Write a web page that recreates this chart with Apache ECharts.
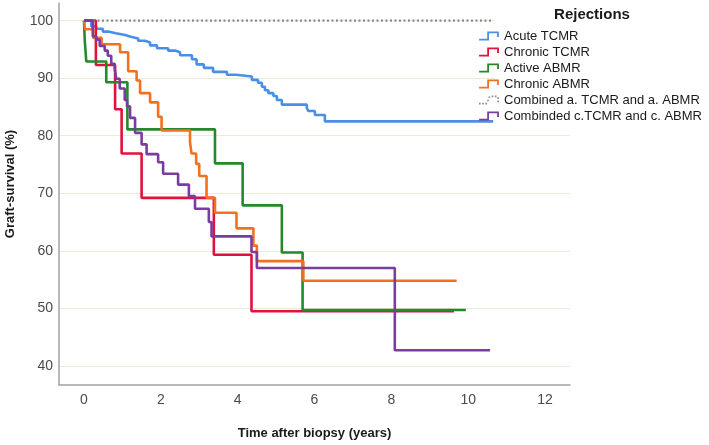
<!DOCTYPE html>
<html>
<head>
<meta charset="utf-8">
<script src="https://cdn.jsdelivr.net/npm/echarts@6/dist/echarts.min.js"></script>
<style>
html,body{margin:0;padding:0;background:#fff;}
#chart{width:709px;height:445px;}
</style>
</head>
<body>
<div id="chart"></div>
<script>
// ---- data ----
const seriesNames = ['Acute TCMR','Chronic TCMR','Active ABMR','Chronic ABMR','Combined a. TCMR and a. ABMR','Combinded c.TCMR and c. ABMR'];
const xTickValues = [0,2,4,6,8,10,12];
const yTickValues = [40,50,60,70,80,90,100];

const acuteTcmrTime = [0,0.19,0.32,0.49,0.63,0.83,1.07,1.22,1.41,1.59,1.72,1.90,2.19,2.37,2.50,2.81,2.93,3.12,3.36,3.72,3.96,4.37,4.53,4.63,4.71,4.80,4.93,5.02,5.15,5.80,5.84,6.01,6.27,10.65];
const acuteTcmrSurv = [100,99.0,98.6,98.1,97.8,97.5,97.2,96.9,96.5,96.2,95.7,95.2,94.8,94.5,94.0,93.3,92.4,91.8,91.1,90.6,90.3,89.7,89.2,88.5,87.9,87.4,86.9,86.2,85.4,84.8,84.3,83.6,82.5,82.5];

const chronicTcmrTime = [0,0.31,0.81,0.98,1.50,3.38,4.36,9.63];
const chronicTcmrSurv = [100,92.3,84.6,76.9,69.2,59.3,49.5,49.5];

const activeAbmrTime = [0,0.02,0.06,0.58,1.13,3.41,4.13,5.15,5.69,9.94];
const activeAbmrSurv = [100,96.6,92.9,89.3,81.1,75.2,67.9,59.7,49.7,49.7];

const chronicAbmrTime = [0,0.03,0.24,0.46,0.94,1.15,1.37,1.46,1.72,1.93,2.02,2.76,2.80,2.92,3.00,3.19,3.41,3.97,4.41,4.50,5.71,9.70];
const chronicAbmrSurv = [100,98.5,97.0,95.9,94.5,91.2,89.6,87.4,85.8,83.3,80.9,78.9,76.9,75.1,73.0,69.2,66.6,63.9,60.9,58.2,54.8,54.8];

const combinedATime = [0,10.6];
const combinedASurv = [100,100];

const combinedCTime = [0,0.23,0.32,0.41,0.54,0.62,0.71,0.80,0.84,0.93,1.06,1.12,1.20,1.33,1.50,1.63,1.93,2.06,2.45,2.73,2.89,3.25,3.32,4.36,4.50,8.09,10.57];
const combinedCSurv = [100,97.3,96.7,95.6,94.8,93.9,92.5,91.6,89.9,88.2,86.2,85.1,83.1,80.5,78.5,76.8,75.4,73.4,71.5,69.5,67.3,65.0,62.5,59.8,57.0,42.7,42.7];

// ---- styling ----
const colors = ['#4a8fe7','#e0123d','#24892a','#f3701f','#8a8a8a','#7a3c9f'];
const FONT = '"Liberation Sans", Arial, sans-serif';
const stepIcon = 'path://M0,8 L9,8 L9,0 L22,0 L22,6 L20,6 L20,2 L11,2 L11,10 L0,10 Z';
const dotIcon = 'path://M0,8h1.8v1.8h-1.8Z M3.5,8h1.8v1.8h-1.8Z M7,8h1.8v1.8h-1.8Z M9,4.5h1.8v1.8h-1.8Z M10.5,1h1.8v1.8h-1.8Z M14,0h1.8v1.8h-1.8Z M17.5,0h1.8v1.8h-1.8Z M20.2,2h1.8v1.8h-1.8Z M20.2,5.5h1.8v1.8h-1.8Z';

function zip(t, s){ return t.map((v,i)=>[v, s[i]]); }
const allData = [
  zip(acuteTcmrTime, acuteTcmrSurv),
  zip(chronicTcmrTime, chronicTcmrSurv),
  zip(activeAbmrTime, activeAbmrSurv),
  zip(chronicAbmrTime, chronicAbmrSurv),
  zip(combinedATime, combinedASurv),
  zip(combinedCTime, combinedCSurv)
];

const series = seriesNames.map((name,i)=>({
  name: name,
  type: 'line',
  step: 'end',
  data: allData[i],
  showSymbol: false,
  symbol: 'none',
  silent: true,
  animation: false,
  color: colors[i],
  lineStyle: i===4 ? {color: colors[i], width: 2.2, type: [2,2.5]} : {color: colors[i], width: 2.6},
  z: 3
}));

const chart = echarts.init(document.getElementById('chart'), null, {renderer:'canvas'});
chart.setOption({
  animation: false,
  backgroundColor: '#ffffff',
  grid: {left: 59, right: 139, top: 3, bottom: 52.5, containLabel: false},
  xAxis: {
    type: 'value', min: -0.65, max: 12.65,
    name: 'Time after biopsy (years)', nameLocation: 'middle', nameGap: 42,
    nameTextStyle: {fontFamily: FONT, fontWeight: 'bold', fontSize: 13, color: '#1a1a1a'},
    axisLine: {show: true, onZero: false, lineStyle: {color: '#a3a3a3', width: 1.5}},
    axisTick: {show: false, customValues: xTickValues},
    axisLabel: {customValues: xTickValues, fontFamily: FONT, fontSize: 14, color: '#4a4a4a', margin: 8},
    splitLine: {show: false}
  },
  yAxis: {
    type: 'value', min: 36.67, max: 103.07,
    axisLine: {show: true, onZero: false, lineStyle: {color: '#a3a3a3', width: 1.5}},
    axisTick: {show: false, customValues: yTickValues},
    axisLabel: {customValues: yTickValues, fontFamily: FONT, fontSize: 14, color: '#4a4a4a', margin: 6},
    splitLine: {show: true, lineStyle: {color: '#ecebd9', width: 1}}
  },
  legend: {
    orient: 'vertical', left: 479, top: 28, padding: 0, itemGap: 0,
    itemWidth: 20, itemHeight: 9,
    selectedMode: false,
    textStyle: {fontFamily: FONT, fontSize: 13, color: '#1a1a1a', lineHeight: 16},
    data: seriesNames.map((n,i)=>({name: n, icon: i===4 ? dotIcon : stepIcon, itemStyle: {color: colors[i]}})),
    z: 10
  },
  graphic: [
    {type: 'rect', left: 495, top: 0, shape: {width: 214, height: 126}, style: {fill: '#ffffff'}, z: 1, silent: true},
    {type: 'text', x: 592, y: 15, z: 11, style: {text: 'Rejections', font: 'bold 15px ' + FONT, fill: '#1a1a1a', align: 'center', verticalAlign: 'middle'}},
    {type: 'text', x: 10, y: 184, rotation: Math.PI/2, z: 11, style: {text: 'Graft-survival (%)', font: 'bold 13px ' + FONT, fill: '#1a1a1a', align: 'center', verticalAlign: 'middle'}}
  ],
  series: series
});
</script>
</body>
</html>
